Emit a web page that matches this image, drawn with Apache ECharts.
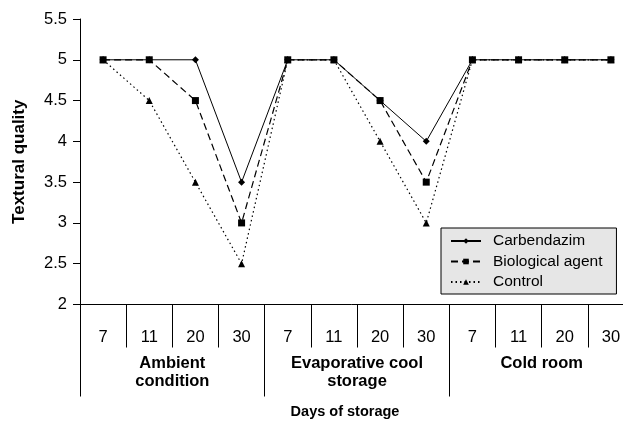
<!DOCTYPE html>
<html><head><meta charset="utf-8">
<script src="https://cdn.jsdelivr.net/npm/echarts@6/dist/echarts.min.js"></script>
<style>html,body{margin:0;padding:0;background:#fff}#c{width:623px;height:421px}</style>
</head><body><div id="c"></div>
<script>
const days = ['7','11','20','30','7','11','20','30','7','11','20','30'];
const groups = ['Ambient\ncondition','Evaporative cool\nstorage','Cold room'];
const carbendazim = [5,5,5,3.5, 5,5,4.5,4, 5,5,5,5];
const biological = [5,5,4.5,3, 5,5,4.5,3.5, 5,5,5,5];
const control = [5,4.5,3.5,2.5, 5,5,4,3, 5,5,5,5];
const font = 'Liberation Sans, Arial, sans-serif';
const chart = echarts.init(document.getElementById('c'), null, {renderer:'canvas'});
chart.setOption({
  animation:false,
  textStyle:{fontFamily:font, color:'#000'},
  title:{text:'Days of storage', left:345, top:404, textAlign:'center', padding:0,
    textStyle:{fontFamily:font, fontSize:14.5, fontWeight:'bold', color:'#000'}},
  grid:{left:80, top:19, bottom:116.5, width:554, outerBoundsMode:'none', containLabel:false},
  legend:{orient:'vertical', left:441, top:228, width:174, itemGap:4.5,
    padding:[5,14,4,9],
    backgroundColor:'#e6e6e6', borderColor:'#000', borderWidth:1,
    itemWidth:30, itemHeight:7,
    textStyle:{fontFamily:font, fontSize:15.5, color:'#000', padding:[0,0,0,7]},
    data:['Carbendazim','Biological agent','Control']},
  xAxis:[{type:'category', data:days, position:'bottom',
      axisLine:{show:true, lineStyle:{color:'#000', width:1}},
      axisTick:{show:true, length:43, lineStyle:{color:'#000'}},
      axisLabel:{show:true, color:'#000', fontSize:16.5, margin:24, fontFamily:font}},
    {type:'category', data:groups, position:'bottom',
      axisLine:{show:false},
      axisTick:{show:true, length:92, lineStyle:{color:'#000'}},
      axisLabel:{show:true, color:'#000', fontSize:16.5, fontWeight:'bold', margin:50, lineHeight:18, fontFamily:font}}],
  yAxis:{type:'value', min:2, max:5.5, interval:0.5,
    name:'Textural quality', nameLocation:'middle', nameGap:52,
    nameTextStyle:{fontFamily:font, fontSize:17, fontWeight:'bold', color:'#000'},
    axisLine:{show:true, lineStyle:{color:'#000'}},
    axisTick:{show:true, length:7, lineStyle:{color:'#000'}},
    splitLine:{show:false},
    axisLabel:{color:'#000', fontSize:16.5, margin:13, fontFamily:font}},
  series:[
    {name:'Carbendazim', type:'line', data:carbendazim, symbol:'diamond', symbolSize:7,
      itemStyle:{color:'#000'}, lineStyle:{color:'#000', width:1, type:'solid'}},
    {name:'Biological agent', type:'line', data:biological, symbol:'rect', symbolSize:7,
      itemStyle:{color:'#000'}, lineStyle:{color:'#000', width:1.2, type:[7,4]}},
    {name:'Control', type:'line', data:control, symbol:'triangle', symbolSize:7,
      itemStyle:{color:'#000'}, lineStyle:{color:'#000', width:1.2, type:[1.5,3]}}
  ]
});
</script></body></html>
